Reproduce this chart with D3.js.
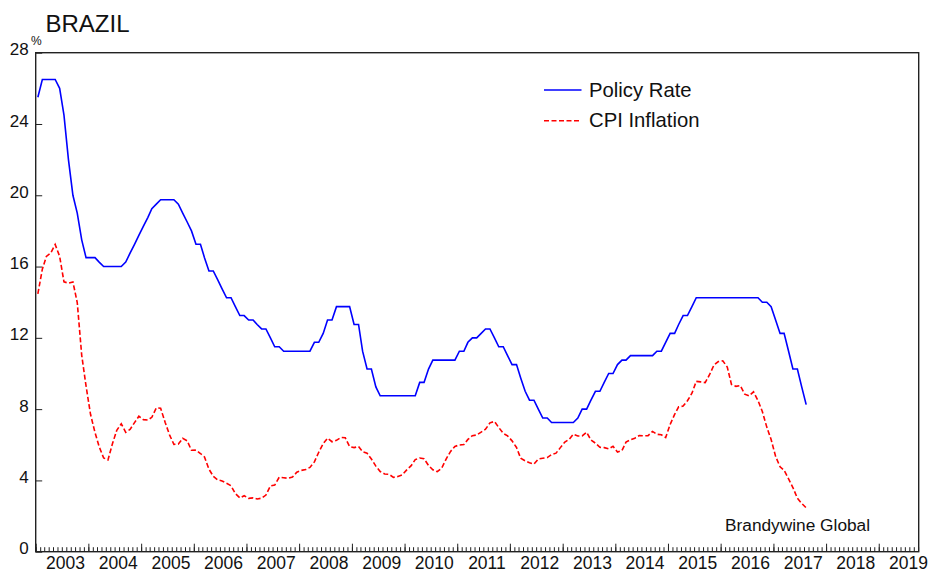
<!DOCTYPE html>
<html lang="en">
<head>
  <meta charset="UTF-8" />
  <title>Brazil - Policy Rate and CPI Inflation</title>
  <script src="https://cdn.jsdelivr.net/npm/d3@7"></script>
  <style>
    body {
      margin: 0;
      background: white;
      font-family: "Liberation Sans", Arial, sans-serif;
    }
    svg { display: block; }
    .frame { fill: none; stroke: #222; stroke-width: 1.4px; }
    .axis path { display: none; }
    .axis line { stroke: #222; stroke-width: 1px; }
    .axis text { font-family: "Liberation Sans", Arial, sans-serif; font-size: 17px; fill: #111; }
    .year-label { font-size: 17.5px; fill: #111; }
  </style>
</head>
<body>
  <div id="chart"></div>

  <script>
    const width = 930;
    const height = 573;

    // monthly data, Jan 2003 .. Aug 2017 (month-end values)
    const startYear = 2003;

    const policyRate = [
      25.5, 26.5, 26.5, 26.5, 26.5, 26.0, 24.5, 22.0, 20.0, 19.0, 17.5, 16.5,    // 2003
      16.5, 16.5, 16.25, 16.0, 16.0, 16.0, 16.0, 16.0, 16.25, 16.75, 17.25, 17.75, // 2004
      18.25, 18.75, 19.25, 19.5, 19.75, 19.75, 19.75, 19.75, 19.5, 19.0, 18.5, 18.0, // 2005
      17.25, 17.25, 16.5, 15.75, 15.75, 15.25, 14.75, 14.25, 14.25, 13.75, 13.25, 13.25, // 2006
      13.0, 13.0, 12.75, 12.5, 12.5, 12.0, 11.5, 11.5, 11.25, 11.25, 11.25, 11.25, // 2007
      11.25, 11.25, 11.25, 11.75, 11.75, 12.25, 13.0, 13.0, 13.75, 13.75, 13.75, 13.75, // 2008
      12.75, 12.75, 11.25, 10.25, 10.25, 9.25, 8.75, 8.75, 8.75, 8.75, 8.75, 8.75, // 2009
      8.75, 8.75, 8.75, 9.5, 9.5, 10.25, 10.75, 10.75, 10.75, 10.75, 10.75, 10.75, // 2010
      11.25, 11.25, 11.75, 12.0, 12.0, 12.25, 12.5, 12.5, 12.0, 11.5, 11.5, 11.0, // 2011
      10.5, 10.5, 9.75, 9.0, 8.5, 8.5, 8.0, 7.5, 7.5, 7.25, 7.25, 7.25,           // 2012
      7.25, 7.25, 7.25, 7.5, 8.0, 8.0, 8.5, 9.0, 9.0, 9.5, 10.0, 10.0,            // 2013
      10.5, 10.75, 10.75, 11.0, 11.0, 11.0, 11.0, 11.0, 11.0, 11.25, 11.25, 11.75, // 2014
      12.25, 12.25, 12.75, 13.25, 13.25, 13.75, 14.25, 14.25, 14.25, 14.25, 14.25, 14.25, // 2015
      14.25, 14.25, 14.25, 14.25, 14.25, 14.25, 14.25, 14.25, 14.25, 14.0, 14.0, 13.75, // 2016
      13.0, 12.25, 12.25, 11.25, 10.25, 10.25, 9.25, 8.25                        // 2017
    ];

    const cpiInflation = [
      14.47, 15.85, 16.57, 16.77, 17.24, 16.57, 15.14, 15.07, 15.14, 13.98, 11.02, 9.30, // 2003
      7.71, 6.69, 5.89, 5.26, 5.15, 6.06, 6.81, 7.18, 6.70, 6.86, 7.24, 7.60,     // 2004
      7.41, 7.39, 7.54, 8.07, 8.05, 7.27, 6.57, 6.02, 6.04, 6.36, 6.22, 5.69,     // 2005
      5.70, 5.51, 5.32, 4.63, 4.23, 4.03, 3.97, 3.84, 3.70, 3.26, 3.02, 3.14,     // 2006
      2.99, 3.02, 2.96, 3.00, 3.18, 3.69, 3.74, 4.18, 4.15, 4.12, 4.19, 4.46,     // 2007
      4.56, 4.61, 4.73, 5.04, 5.58, 6.06, 6.37, 6.17, 6.25, 6.41, 6.39, 5.90,     // 2008
      5.84, 5.90, 5.61, 5.53, 5.20, 4.80, 4.50, 4.36, 4.34, 4.17, 4.22, 4.31,     // 2009
      4.59, 4.83, 5.17, 5.26, 5.22, 4.84, 4.60, 4.49, 4.70, 5.20, 5.63, 5.91,     // 2010
      5.99, 6.01, 6.30, 6.51, 6.55, 6.71, 6.87, 7.23, 7.31, 6.97, 6.64, 6.50,     // 2011
      6.22, 5.85, 5.24, 5.10, 4.99, 4.92, 5.20, 5.24, 5.28, 5.45, 5.53, 5.84,     // 2012
      6.15, 6.31, 6.59, 6.49, 6.50, 6.70, 6.27, 6.09, 5.86, 5.84, 5.77, 5.91,     // 2013
      5.59, 5.68, 6.15, 6.28, 6.37, 6.52, 6.50, 6.51, 6.75, 6.59, 6.56, 6.41,     // 2014
      7.14, 7.70, 8.13, 8.17, 8.47, 8.89, 9.56, 9.53, 9.49, 9.93, 10.48, 10.67,   // 2015
      10.71, 10.36, 9.39, 9.28, 9.32, 8.84, 8.74, 8.97, 8.48, 7.87, 6.99, 6.29,   // 2016
      5.35, 4.76, 4.57, 4.08, 3.60, 3.00, 2.71, 2.46                              // 2017
    ];

    const yearLabels = [2003, 2004, 2005, 2006, 2007, 2008, 2009, 2010, 2011,
                        2012, 2013, 2014, 2015, 2016, 2017, 2018, 2019];
    const yTicks = [0, 4, 8, 12, 16, 20, 24, 28];

    const seriesNames = ["Policy Rate", "CPI Inflation"];
    const seriesColors = ["#0000ff", "#ff0000"];

    const margin = { top: 52.7, right: 11.3, bottom: 21.3, left: 35.7 };

    const svg = d3.select("#chart")
      .append("svg")
      .attr("width", width)
      .attr("height", height);

    const x = d3.scaleUtc()
      .domain([new Date(Date.UTC(2003, 0, 1)), new Date(Date.UTC(2019, 9, 5))])
      .range([margin.left, width - margin.right]);

    const y = d3.scaleLinear()
      .domain([0, 28])
      .range([height - margin.bottom, margin.top]);

    const monthDate = i => new Date(Date.UTC(startYear, i, 16));

    // x axis: year ticks and month minor ticks pointing up
    const bottom = height - margin.bottom;

    svg.append("g")
      .attr("class", "axis")
      .attr("transform", `translate(0,${bottom})`)
      .call(d3.axisBottom(x)
        .tickValues(d3.utcMonth.range(x.domain()[0], x.domain()[1]))
        .tickSize(-4.5)
        .tickFormat(""));

    svg.append("g")
      .attr("class", "axis")
      .attr("transform", `translate(0,${bottom})`)
      .call(d3.axisBottom(x)
        .tickValues(yearLabels.map(yr => new Date(Date.UTC(yr, 0, 1))))
        .tickSize(-8)
        .tickFormat(""));

    svg.append("g")
      .selectAll("text")
      .data(yearLabels)
      .enter()
      .append("text")
      .attr("class", "year-label")
      .attr("x", yr => x(new Date(Date.UTC(yr, 6, 2))) + 3.5)
      .attr("y", 569)
      .attr("text-anchor", "middle")
      .text(yr => yr);

    // y axis
    const yAxisG = svg.append("g")
      .attr("class", "axis")
      .attr("transform", `translate(${margin.left},0)`)
      .call(d3.axisLeft(y)
        .tickValues(yTicks)
        .tickSize(-6.5)
        .tickPadding(7)
        .tickFormat(d3.format("d")));

    yAxisG.selectAll("text").attr("dy", "0.12em");

    svg.append("text")
      .attr("x", 31)
      .attr("y", 44.5)
      .style("font-size", "12px")
      .style("fill", "#111")
      .text("%");

    // frame
    svg.append("rect")
      .attr("class", "frame")
      .attr("x", margin.left)
      .attr("y", margin.top)
      .attr("width", width - margin.right - margin.left)
      .attr("height", height - margin.bottom - margin.top);

    // lines
    const line = d3.line()
      .x((d, i) => x(monthDate(i)))
      .y(d => y(d));

    svg.append("path")
      .datum(cpiInflation)
      .attr("fill", "none")
      .attr("stroke", seriesColors[1])
      .attr("stroke-width", 1.6)
      .attr("stroke-dasharray", "5,2.5")
      .attr("d", line);

    svg.append("path")
      .datum(policyRate)
      .attr("fill", "none")
      .attr("stroke", seriesColors[0])
      .attr("stroke-width", 1.6)
      .attr("d", line);

    // legend
    const legend = svg.append("g").attr("transform", "translate(544,90)");

    seriesNames.forEach((name, i) => {
      const row = legend.append("g").attr("transform", `translate(0,${i * 30.7})`);
      row.append("line")
        .attr("x1", 0).attr("x2", 37.5)
        .attr("y1", 0).attr("y2", 0)
        .attr("stroke", seriesColors[i])
        .attr("stroke-width", 1.6)
        .attr("stroke-dasharray", i === 1 ? "5,2.5" : null);
      row.append("text")
        .attr("x", 45)
        .attr("y", 6.5)
        .style("font-size", "20.3px")
        .style("fill", "#111")
        .text(name);
    });

    // title and source
    svg.append("text")
      .attr("x", 45.5)
      .attr("y", 32.3)
      .style("font-size", "24px")
      .style("fill", "#111")
      .text("BRAZIL");

    svg.append("text")
      .attr("x", 725)
      .attr("y", 530.7)
      .style("font-size", "17.3px")
      .style("fill", "#111")
      .text("Brandywine Global");
  </script>
</body>
</html>
